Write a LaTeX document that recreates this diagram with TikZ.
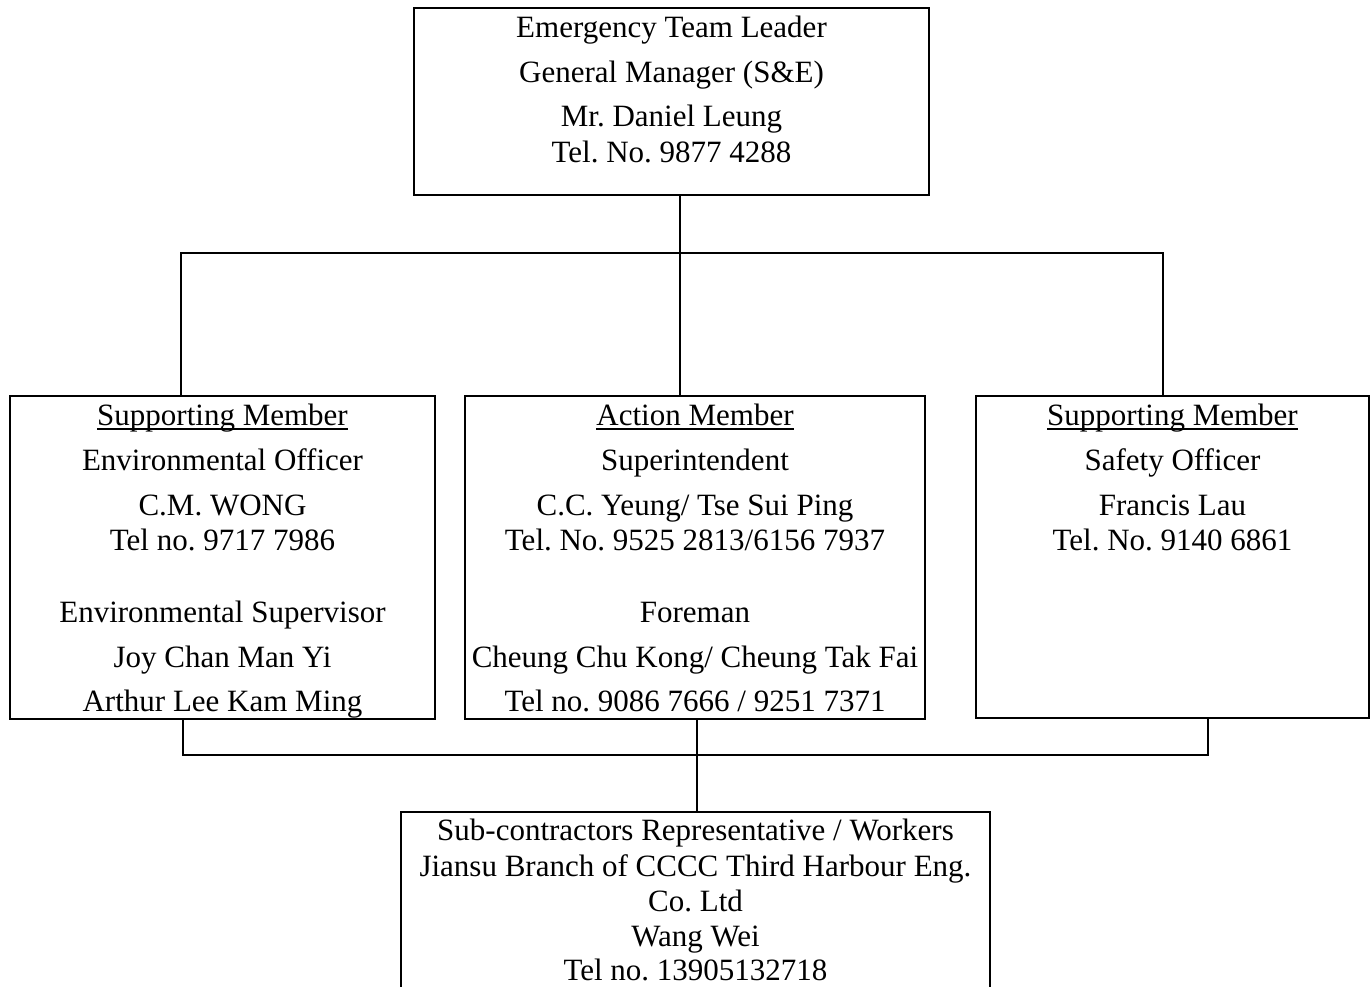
\documentclass[tikz,border=0pt]{standalone}
\usepackage{fontspec}
\setmainfont{Liberation Serif}
\frenchspacing
\newcommand\ulword[1]{\setbox0\hbox{#1}\rlap{\rule[-5pt]{\wd0}{1.6pt}}\box0}
\begin{document}
\begin{tikzpicture}[x=1pt,y=1pt,
  box/.style={draw, line width=2pt, inner sep=0pt, outer sep=0pt, anchor=north west},
  link/.style={draw, line width=1.5pt},
  txt/.style={inner sep=0pt, outer sep=0pt, anchor=base, font=\fontsize{31pt}{36pt}\selectfont\frenchspacing}]
\useasboundingbox (0,0) rectangle (1370,-986);
\clip (0,0) rectangle (1370,-986);
% boxes
\node[box, minimum width=515, minimum height=187] (top) at (414,-8) {};
\node[box, minimum width=425, minimum height=323] (left) at (10,-396) {};
\node[box, minimum width=460, minimum height=323] (mid) at (465,-396) {};
\node[box, minimum width=393, minimum height=322] (right) at (976,-396) {};
\node[box, minimum width=589, minimum height=200] (bot) at (401,-812) {};
% junction coordinates
\coordinate (ja) at (680,-253);
\coordinate (jl) at (181,-253);
\coordinate (jr) at (1163,-253);
\coordinate (ka) at (697,-755);
\coordinate (kl) at (183,-755);
\coordinate (kr) at (1208,-755);
% connectors
\draw[link] (top.south -| ja) -- (ja);
\draw[link] (left.north -| jl) -- (jl) -- (jr) -- (right.north -| jr);
\draw[link] (ja) -- (mid.north -| ja);
\draw[link] (left.south -| kl) -- (kl) -- (kr) -- (right.south -| kr);
\draw[link] (mid.south -| ka) -- (bot.north -| ka);
% top text
\node[txt] (t1) at (top.north |- 0,-37) {Emergency Team Leader};
\node[txt] (t2) at (top.north |- 0,-82) {General Manager (S\&E)};
\node[txt] (t3) at (top.north |- 0,-126) {Mr. Daniel Leung};
\node[txt] (t4) at (top.north |- 0,-162) {Tel. No. 9877 4288};
% left text
\node[txt] (l1) at (left.north |- 0,-425) {\ulword{Supporting Member}};
\node[txt] (l2) at (left.north |- 0,-470) {Environmental Officer};
\node[txt] (l3) at (left.north |- 0,-515) {C.M. WONG};
\node[txt] (l4) at (left.north |- 0,-550) {Tel no. 9717 7986};
\node[txt] (l5) at (left.north |- 0,-622) {Environmental Supervisor};
\node[txt] (l6) at (left.north |- 0,-667) {Joy Chan Man Yi};
\node[txt] (l7) at (left.north |- 0,-711) {Arthur Lee Kam Ming};
% middle text
\node[txt] (m1) at (mid.north |- 0,-425) {\ulword{Action Member}};
\node[txt] (m2) at (mid.north |- 0,-470) {Superintendent};
\node[txt] (m3) at (mid.north |- 0,-515) {C.C. Yeung/ Tse Sui Ping};
\node[txt] (m4) at (mid.north |- 0,-550) {Tel. No. 9525 2813/6156 7937};
\node[txt] (m5) at (mid.north |- 0,-622) {Foreman};
\node[txt] (m6) at (mid.north |- 0,-667) {Cheung Chu Kong/ Cheung Tak Fai};
\node[txt] (m7) at (mid.north |- 0,-711) {Tel no. 9086 7666 / 9251 7371};
% right text
\node[txt] (r1) at (right.north |- 0,-425) {\ulword{Supporting Member}};
\node[txt] (r2) at (right.north |- 0,-470) {Safety Officer};
\node[txt] (r3) at (right.north |- 0,-515) {Francis Lau};
\node[txt] (r4) at (right.north |- 0,-550) {Tel. No. 9140 6861};
% bottom text
\node[txt] (b1) at (bot.north |- 0,-840) {Sub-contractors Representative / Workers};
\node[txt] (b2) at (bot.north |- 0,-876) {Jiansu Branch of CCCC Third Harbour Eng.};
\node[txt] (b3) at (bot.north |- 0,-911) {Co. Ltd};
\node[txt] (b4) at (bot.north |- 0,-946) {Wang Wei};
\node[txt] (b5) at (bot.north |- 0,-980) {Tel no. 13905132718};
\end{tikzpicture}
\end{document}
